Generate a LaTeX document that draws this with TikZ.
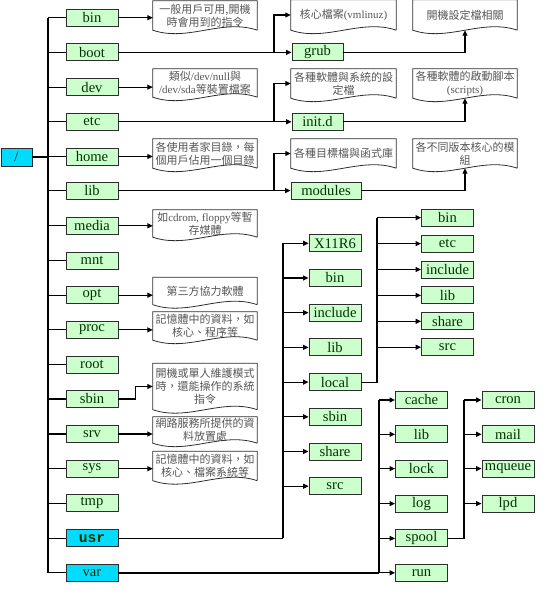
\documentclass[tikz,border=0pt]{standalone}
\usepackage{fontspec}
\setmainfont{Liberation Serif}
\setmonofont{Liberation Mono}
\newfontfamily\cjk{Noto Sans CJK TC}
\usetikzlibrary{arrows.meta}
\definecolor{boxgreen}{RGB}{204,255,204}
\definecolor{boxcyan}{RGB}{0,220,255}
\definecolor{labgreen}{RGB}{0,51,0}
\definecolor{notetext}{RGB}{85,85,85}
\definecolor{edge}{RGB}{45,45,45}
\tikzset{
  dirbox/.style={draw=edge, line width=0.9pt, fill=boxgreen, minimum width=52pt, minimum height=17pt, inner sep=0pt, text=labgreen, font=\fontsize{14.6}{14.6}\selectfont},
  cyanbox/.style={dirbox, fill=boxcyan},
  note/.style={minimum width=104pt, inner sep=1pt, align=center, text=notetext, font=\cjk\fontsize{11}{13}\selectfont},
  conn/.style={draw=black, line width=1.1pt},
  heavy/.style={draw=black, line width=1.8pt},
  arr/.style={conn, -{Triangle[length=5.5pt,width=5pt]}},
  docline/.style={draw=edge, line width=0.8pt}
}
\newcommand\docshape[1]{\draw[docline] (#1.south east) -- (#1.north east) -- (#1.north west) -- (#1.south west) .. controls +(35,12) and +(-35,-12) .. (#1.south east);}
\begin{document}
\begin{tikzpicture}[x=1pt,y=-1pt]
\useasboundingbox (0,0) rectangle (553,596);
% coordinates of junction columns
\coordinate (trunk) at (48,0);
\coordinate (jx) at (274,0);
\coordinate (ux) at (283,0);
\coordinate (lx) at (377,0);
\coordinate (vx) at (379,0);
\coordinate (sx) at (464,0);
% root
\node[cyanbox, minimum width=31pt, minimum height=18pt] (rootdir) at (16.5,157) {/};
% left column
\node[dirbox] (bin) at (92,17.7) {bin};
\node[dirbox] (boot) at (92,52.4) {boot};
\node[dirbox] (dev) at (92,87.1) {dev};
\node[dirbox] (etc) at (92,121.8) {etc};
\node[dirbox] (home) at (92,156.5) {home};
\node[dirbox] (lib) at (92,190.6) {lib};
\node[dirbox] (media) at (92,225.8) {media};
\node[dirbox] (mnt) at (92,260.5) {mnt};
\node[dirbox] (opt) at (92,295.2) {opt};
\node[dirbox] (proc) at (92,329.9) {proc};
\node[dirbox] (rootd) at (92,364.6) {root};
\node[dirbox] (sbin) at (92,399.0) {sbin};
\node[dirbox] (srv) at (92,434.0) {srv};
\node[dirbox] (sys) at (92,468.7) {sys};
\node[dirbox] (tmp) at (92,503.4) {tmp};
\node[cyanbox, font=\ttfamily\bfseries\fontsize{14.6}{14.6}\selectfont] (usr) at (92,538.4) {usr};
\node[cyanbox] (var) at (92,572.8) {var};
% left notes
\node[note, minimum height=29pt] (nbin) at (205,15.5) {一般用戶可用,開機\\時會用到的指令};
\node[note, minimum height=28pt] (ndev) at (205,83) {類似{\rmfamily/dev/null}與\\{\rmfamily/dev/sda}等裝置檔案};
\node[note, minimum height=29pt] (nhome) at (205,153.5) {各使用者家目錄，每\\個用戶佔用一個目錄};
\node[note, minimum height=27pt] (nmedia) at (205,223.5) {如{\rmfamily cdrom, floppy}等暫\\存媒體};
\node[note, minimum height=27pt] (nopt) at (205,291) {第三方協力軟體};
\node[note, minimum height=28pt] (nproc) at (205,326) {記憶體中的資料，如\\核心、程序等};
\node[note, minimum height=46pt] (nsbin) at (205,386.5) {開機或單人維護模式\\時，還能操作的系統\\指令};
\node[note, minimum height=26pt] (nsrv) at (205,430) {網路服務所提供的資\\料放置處};
\node[note, minimum height=29pt] (nsys) at (205,466) {記憶體中的資料，如\\核心、檔案系統等};
% right notes
\node[note, minimum width=105pt, minimum height=30pt] (nkern) at (343.5,15) {核心檔案{\rmfamily(vmlinuz)}};
\node[note, minimum height=30pt] (ngrub) at (465,15) {開機設定檔相關};
\node[note, minimum width=105pt, minimum height=29pt] (netc) at (343.5,83.5) {各種軟體與系統的設\\定檔};
\node[note, minimum height=29pt] (ninit) at (465,83.5) {各種軟體的啟動腳本\\{\rmfamily(scripts)}};
\node[note, minimum width=105pt, minimum height=29pt] (nlib) at (343.5,153.5) {各種目標檔與函式庫};
\node[note, minimum height=29pt] (nmod) at (465,153.5) {各不同版本核心的模\\組};
\foreach \n in {nbin,ndev,nhome,nmedia,nopt,nproc,nsbin,nsrv,nsys,nkern,ngrub,netc,ninit,nlib,nmod}{\docshape{\n}}
% right boxes
\node[dirbox, minimum width=51pt] (grub) at (317.5,52.4) {grub};
\node[dirbox, minimum width=51pt] (initd) at (317.5,121.8) {init.d};
\node[dirbox, minimum width=70pt] (modules) at (326,190.6) {modules};
% usr subtree
\node[dirbox] (uX) at (335,243.3) {X11R6};
\node[dirbox] (ubin) at (335,278.0) {bin};
\node[dirbox] (uinc) at (335,312.7) {include};
\node[dirbox] (ulib) at (335,347.4) {lib};
\node[dirbox] (ulocal) at (335,382.1) {local};
\node[dirbox] (usbin) at (335,416.8) {sbin};
\node[dirbox] (ushare) at (335,451.5) {share};
\node[dirbox] (usrc) at (335,486.2) {src};
% local subtree
\node[dirbox] (lbin) at (447.5,217.7) {bin};
\node[dirbox] (letc) at (447.5,243.6) {etc};
\node[dirbox] (linc) at (447.5,269.5) {include};
\node[dirbox] (llib) at (447.5,295.4) {lib};
\node[dirbox] (lshare) at (447.5,321.3) {share};
\node[dirbox] (lsrc) at (447.5,347.2) {src};
% var subtree
\node[dirbox] (vcache) at (421.5,400) {cache};
\node[dirbox] (vlib) at (421.5,434.3) {lib};
\node[dirbox] (vlock) at (421.5,468.6) {lock};
\node[dirbox] (vlog) at (421.5,503.6) {log};
\node[dirbox] (vspool) at (421.5,538.4) {spool};
\node[dirbox] (vrun) at (421.5,572.8) {run};
% spool subtree
\node[dirbox] (scron) at (508,400) {cron};
\node[dirbox] (smail) at (508,434.3) {mail};
\node[dirbox] (smq) at (508,468.6) {mqueue};
\node[dirbox] (slpd) at (508,503.6) {lpd};
% trunk
\draw[heavy] (rootdir.east) -- (rootdir.east -| trunk);
\draw[conn] (bin.west -| trunk) -- (var.west -| trunk);
\foreach \n in {bin,boot,dev,etc,home,lib,media,mnt,opt,proc,rootd,sbin,srv,sys,tmp,usr,var}{
  \draw[conn] (\n.west -| trunk) -- (\n.west);
}
% left notes arrows
\foreach \b/\n in {bin/nbin,dev/ndev,home/nhome,media/nmedia,opt/nopt,proc/nproc,srv/nsrv,sys/nsys}{
  \draw[arr] (\b.east) -- (\b.east -| \n.west);
}
\draw[arr] (sbin.east) -- ++(17,0) |- (nsbin.west);
% boot / etc / lib branches
\draw[arr] (boot.east) -- (grub.west);
\draw[arr] (boot.east -| jx) |- (nkern.west);
\draw[arr] (grub.east) -| (ngrub.south);
\draw[arr] (etc.east) -- (initd.west);
\draw[arr] (etc.east -| jx) |- (netc.west);
\draw[arr] (initd.east) -| (ninit.south);
\draw[arr] (lib.east) -- (modules.west);
\draw[arr] (lib.east -| jx) |- (nlib.west);
\draw[arr] (modules.east) -| (nmod.south);
% usr
\draw[heavy] (usr.east) -- (usr.east -| ux);
\draw[conn] (usr.east -| ux) -- (uX.west -| ux);
\foreach \n in {uX,ubin,uinc,ulib,ulocal,usbin,ushare,usrc}{
  \draw[arr] (\n.west -| ux) -- (\n.west);
}
% local
\draw[conn] (ulocal.east) -- (ulocal.east -| lx) -- (lbin.west -| lx);
\foreach \n in {lbin,letc,linc,llib,lshare,lsrc}{
  \draw[arr] (\n.west -| lx) -- (\n.west);
}
% var
\draw[heavy] (var.east) -- (var.east -| vx);
\draw[conn] (var.east -| vx) -- (vcache.west -| vx);
\foreach \n in {vcache,vlib,vlock,vlog,vspool,vrun}{
  \draw[arr] (\n.west -| vx) -- (\n.west);
}
% spool
\draw[conn] (vspool.east) -- (vspool.east -| sx) -- (scron.west -| sx);
\foreach \n in {scron,smail,smq,slpd}{
  \draw[arr] (\n.west -| sx) -- (\n.west);
}
\end{tikzpicture}
\end{document}
